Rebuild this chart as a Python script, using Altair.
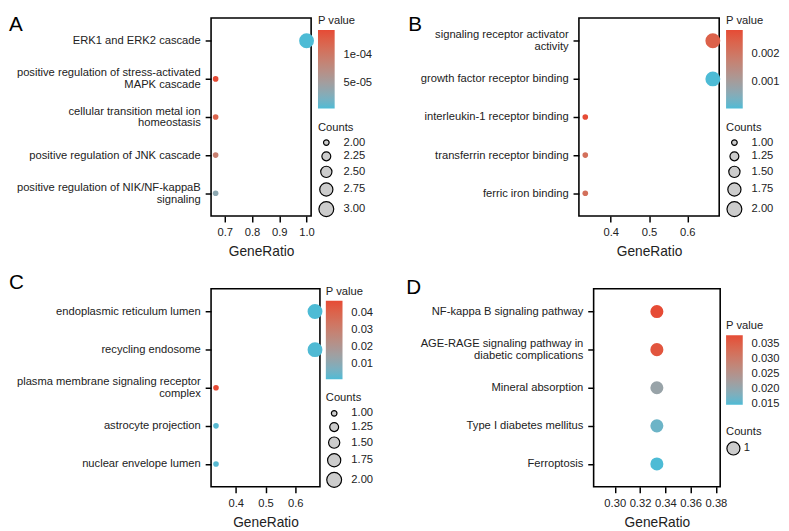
import altair as alt
import pandas as pd

FONT = "Liberation Sans"
LOW = "#4DBBD5"
HIGH = "#E64B35"
TXT = "#222222"

# ---------------- data ----------------
a_terms = ["ERK1 and ERK2 cascade",
           "positive regulation of stress-activated\nMAPK cascade",
           "cellular transition metal ion\nhomeostasis",
           "positive regulation of JNK cascade",
           "positive regulation of NIK/NF-kappaB\nsignaling"]
a_ratio = [1.0, 0.6667, 0.6667, 0.6667, 0.6667]
a_pval = [3.6e-6, 1.46e-4, 1.24e-4, 9.2e-5, 3.4e-5]
a_count = [3, 2, 2, 2, 2]

b_terms = ["signaling receptor activator\nactivity",
           "growth factor receptor binding",
           "interleukin-1 receptor binding",
           "transferrin receptor binding",
           "ferric iron binding"]
b_ratio = [0.6667, 0.6667, 0.3333, 0.3333, 0.3333]
b_pval = [0.00245, 0.00007, 0.00283, 0.00215, 0.00215]
b_count = [2, 2, 1, 1, 1]

c_terms = ["endoplasmic reticulum lumen",
           "recycling endosome",
           "plasma membrane signaling receptor\ncomplex",
           "astrocyte projection",
           "nuclear envelope lumen"]
c_ratio = [0.6667, 0.6667, 0.3333, 0.3333, 0.3333]
c_pval = [0.0006, 0.0009, 0.0476, 0.0018, 0.0018]
c_count = [2, 2, 1, 1, 1]

d_terms = ["NF-kappa B signaling pathway",
           "AGE-RAGE signaling pathway in\ndiabetic complications",
           "Mineral absorption",
           "Type I diabetes mellitus",
           "Ferroptosis"]
d_ratio = [0.3333, 0.3333, 0.3333, 0.3333, 0.3333]
d_pval = [0.0379, 0.0365, 0.0210, 0.0166, 0.0147]
d_count = [1, 1, 1, 1, 1]

MULTI = "indexof(datum.value, '\\n') >= 0"


def panel(letter, terms, ratio, pval, count, xdom, xticks, xfmt,
          pvals_shown, plabel_expr, glen, sdom, srange, svals, sfmt, slaboff,
          width, ldx, ldy, leg_dx, pY, cY, right_edge=None):
    df = pd.DataFrame({"term": terms, "ratio": ratio, "pval": pval, "count": count})
    pts = alt.Chart(df).mark_circle(opacity=1).encode(
        x=alt.X("ratio:Q",
                scale=alt.Scale(domain=xdom, nice=False, zero=False),
                axis=alt.Axis(values=xticks, format=xfmt, title="GeneRatio")),
        y=alt.Y("term:N", sort=terms,
                scale=alt.Scale(type="point", padding=0.6),
                axis=alt.Axis(title=None, labelExpr="split(datum.label, '\\n')",
                              labelLimit=400, labelLineHeight=12,
                              labelOffset={"condition": {"test": MULTI, "value": -6},
                                           "value": 0})),
        color=alt.Color("pval:Q",
                        scale=alt.Scale(domain=[min(pval), max(pval)], range=[LOW, HIGH],
                                        interpolate="lab", nice=False, zero=False),
                        legend=alt.Legend(title="P value", values=pvals_shown,
                                          labelExpr=plabel_expr, gradientLength=glen,
                                          gradientThickness=17, labelOffset=9,
                                          gradientStrokeWidth=0, orient="none",
                                          legendX=width + leg_dx, legendY=pY)),
        size=alt.Size("count:Q",
                      scale=alt.Scale(domain=sdom, range=srange, zero=False, nice=False),
                      legend=alt.Legend(title="Counts", values=svals, format=sfmt,
                                        symbolFillColor="#cccccc", symbolStrokeColor="black",
                                        symbolStrokeWidth=1.2, symbolOpacity=1,
                                        labelOffset=slaboff, rowPadding=0, orient="none",
                                        legendX=width + leg_dx, legendY=cY)),
    )
    lab = alt.Chart(pd.DataFrame({"lab": [letter]})).mark_text(
        align="left", baseline="top", fontSize=21, font=FONT, color="black"
    ).encode(text="lab:N", x=alt.value(ldx), y=alt.value(ldy))
    layers = [pts, lab]
    if right_edge is not None:
        # invisible spacer that fixes where the next panel starts
        spacer = alt.Chart(pd.DataFrame({"k": [0]})).mark_rule(opacity=0, strokeWidth=0.5).encode(
            x=alt.value(right_edge), y=alt.value(0), y2=alt.value(10))
        layers.append(spacer)
    return alt.layer(*layers).properties(width=width, height=202)


pA = panel("A", a_terms, a_ratio, a_pval, a_count, [0.65, 1.01667], [0.7, 0.8, 0.9, 1.0], ".1f",
           [5e-5, 1e-4], "replace(format(datum.value, '.0e'), 'e-', 'e-0')", 80,
           [2, 3], [33, 230], [2, 2.25, 2.5, 2.75, 3], ".2f", 9,
           102, -206, -4, 7, -3, 106, right_edge=199)
pB = panel("B", b_terms, b_ratio, b_pval, b_count, [0.31667, 0.68333], [0.4, 0.5, 0.6], ".1f",
           [0.001, 0.002], "format(datum.value, '.3f')", 80,
           [1, 2], [33, 230], [1, 1.25, 1.5, 1.75, 2], ".2f", 9,
           143, -174, -4, 7, -3, 106)
pC = panel("C", c_terms, c_ratio, c_pval, c_count, [0.31667, 0.68333], [0.4, 0.5, 0.6], ".1f",
           [0.01, 0.02, 0.03, 0.04], "format(datum.value, '.2f')", 80,
           [1, 2], [33, 230], [1, 1.25, 1.5, 1.75, 2], ".2f", 9,
           111, -206, -17, 6, -3, 106, right_edge=197)
pD = panel("D", d_terms, d_ratio, d_pval, d_count, [0.28333, 0.38333],
           [0.30, 0.32, 0.34, 0.36, 0.38], ".2f",
           [0.015, 0.02, 0.025, 0.03, 0.035], "format(datum.value, '.3f')", 71,
           [0, 2], [0, 354], [1], "d", 3,
           129, -191, -12, 6, 32, 140)

top = alt.hconcat(pA, pB, spacing=0).resolve_scale(color="independent", size="independent")
bot = alt.hconcat(pC, pD, spacing=0).resolve_scale(color="independent", size="independent")

chart = alt.vconcat(top, bot, spacing=11).resolve_scale(
    color="independent", size="independent"
).properties(padding=0, background="white").configure_view(
    stroke="black", strokeWidth=1.6
).configure_axis(
    domain=False, grid=False, tickColor="black", tickWidth=1.5, tickSize=6,
    labelFont=FONT, labelFontSize=11.4, labelColor=TXT, labelPadding=5,
    titleFont=FONT, titleFontSize=14, titleFontWeight="normal", titleColor=TXT,
    titlePadding=7
).configure_legend(
    titleFont=FONT, titleFontSize=11.4, titleFontWeight="normal", titleColor=TXT,
    labelFont=FONT, labelFontSize=11.4, labelColor=TXT, padding=0,
    titlePadding=4, symbolType="circle"
)

chart.save("out.html", embed_options={"renderer": "svg", "actions": False})
